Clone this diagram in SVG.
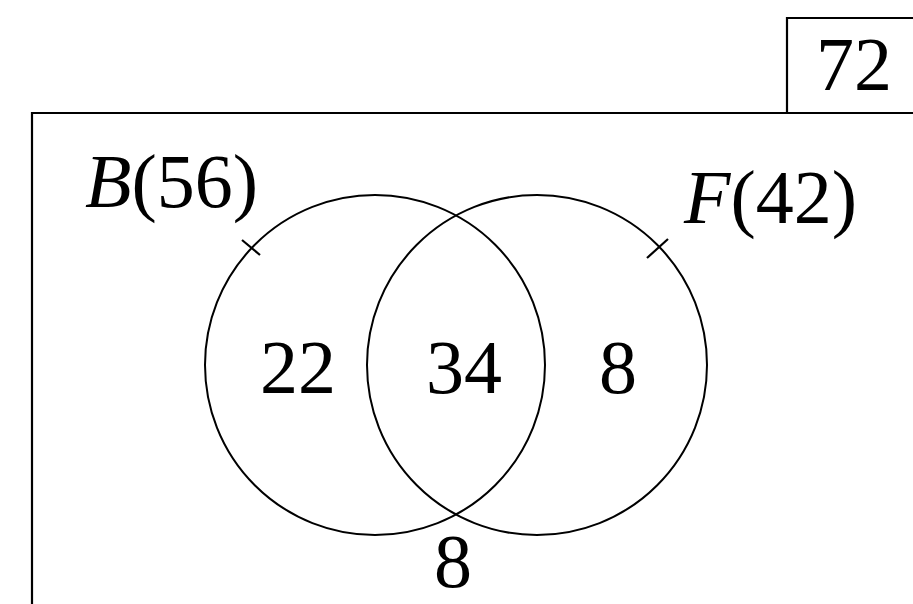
<svg xmlns="http://www.w3.org/2000/svg" width="913" height="604" viewBox="0 0 913 604">
<style>
.ln{fill:none;stroke:#000;stroke-width:2.2}
.c{fill:none;stroke:#000;stroke-width:2}
.t{font-family:"Liberation Serif","Times New Roman","DejaVu Serif",serif;font-size:76px;fill:#000}
.i{font-style:italic}
</style>
<rect width="913" height="604" fill="#fff"/>
<g id="frame">
<path class="ln" d="M32,604 L32,113 L920,113"/>
</g>
<g id="total">
<path class="ln" d="M787,113 L787,18 L920,18"/>
<text class="t" x="854" y="90" text-anchor="middle" font-size="72">72</text>
</g>
<g id="setB">
<circle class="c" cx="375" cy="365" r="170"/>
<text class="t" x="85" y="207"><tspan class="i">B</tspan>(56)</text>
</g>
<g id="setF">
<circle class="c" cx="537" cy="365" r="170"/>
<text class="t" x="684" y="223"><tspan class="i">F</tspan>(42)</text>
</g>
<g id="connectors">
<line class="ln" x1="242" y1="240" x2="260" y2="255"/>
<line class="ln" x1="647" y1="258" x2="668" y2="239"/>
</g>
<g id="regions">
<text class="t" x="298" y="393" text-anchor="middle">22</text>
<text class="t" x="464" y="393" text-anchor="middle">34</text>
<text class="t" x="618" y="393" text-anchor="middle">8</text>
<text class="t" x="453" y="587" text-anchor="middle">8</text>
</g>
</svg>
